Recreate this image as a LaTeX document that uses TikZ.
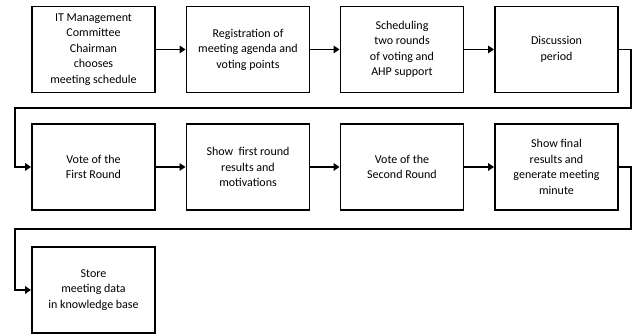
\documentclass[tikz,border=0pt]{standalone}
\usepackage{fontspec}
\setmainfont{Carlito}
\usetikzlibrary{arrows.meta}
\begin{document}
\begin{tikzpicture}[x=1pt,y=1pt,
  stepbox/.style={draw, line width=1.9pt, minimum width=123pt, minimum height=86pt, align=center, font=\fontsize{12}{15.5}\selectfont, inner sep=2pt},
  flow/.style={line width=1.9pt, -{Triangle[length=6pt,width=7.5pt]}}]
\useasboundingbox (0,0) rectangle (636,336);
% row 1
\node[stepbox] (a) at (93.5,286.5) {IT Management\\Committee\\Chairman\\chooses\\meeting schedule};
\node[stepbox] (b) at (248,286.5) {Registration of\\meeting agenda and\\voting points};
\node[stepbox] (c) at (402,286.5) {Scheduling\\two rounds\\of voting and\\AHP support};
\node[stepbox] (d) at (556.5,286.5) {Discussion\\period};
% row 2
\node[stepbox] (e) at (93.5,169) {Vote of the\\First Round};
\node[stepbox] (f) at (248,169) {Show\ \ first round\\results and\\motivations};
\node[stepbox] (g) at (402,169) {Vote of the\\Second Round};
\node[stepbox] (h) at (556.5,169) {Show final\\results and\\generate meeting\\minute};
% row 3
\node[stepbox] (i) at (93.5,46) {Store\\meeting data\\in knowledge base};
% coordinates for wrap-around connectors
\coordinate (d1) at (631,286.5);
\coordinate (d2) at (631,228);
\coordinate (d3) at (15,228);
\coordinate (d4) at (15,169);
\coordinate (h1) at (631,169);
\coordinate (h2) at (631,107);
\coordinate (h3) at (15,107);
\coordinate (h4) at (15,46);
\draw[flow] (a) -- (b);
\draw[flow] (b) -- (c);
\draw[flow] (c) -- (d);
\draw[flow] (d.east) -- (d1) -- (d2) -- (d3) -- (d4) -- (e.west);
\draw[flow] (e) -- (f);
\draw[flow] (f) -- (g);
\draw[flow] (g) -- (h);
\draw[flow] (h.east) -- (h1) -- (h2) -- (h3) -- (h4) -- (i.west);
\end{tikzpicture}
\end{document}
